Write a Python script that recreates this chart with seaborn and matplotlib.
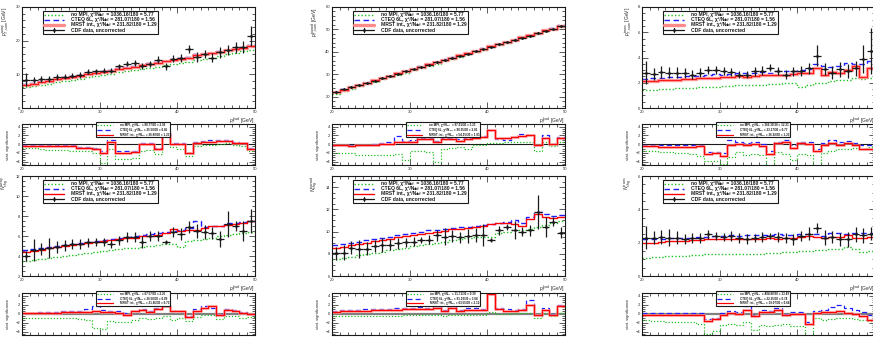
import numpy as np
import matplotlib
matplotlib.use("Agg")
import matplotlib.pyplot as plt
import seaborn as sns
from matplotlib.ticker import MultipleLocator
from matplotlib.lines import Line2D
from matplotlib.offsetbox import TextArea, HPacker, VPacker, DrawingArea, AnchoredOffsetbox

# ---------------- data ----------------
pt_lead_edges = list(range(20, 51))

model_names = ["no MPI", "CTEQ 6L", "MRST int."]
main_chi2 = ["1036.16/180 = 5.77", "281.07/180 = 1.56", "231.82/180 = 1.29"]
data_label = "CDF data, uncorrected"

ylabels_main = [r"$p_{T,\mathrm{sum}}^{\mathrm{away}}$ [GeV]",
                r"$p_{T,\mathrm{sum}}^{\mathrm{toward}}$ [GeV]",
                r"$p_{T,\mathrm{sum}}^{\mathrm{trans}}$ [GeV]",
                r"$N_{\mathrm{chg}}^{\mathrm{away}}$",
                r"$N_{\mathrm{chg}}^{\mathrm{toward}}$",
                r"$N_{\mathrm{chg}}^{\mathrm{trans}}$"]

sig_chi2 = [["88.77/30 = 2.96", "25.50/30 = 0.85", "36.89/30 = 1.23"],
            ["97.01/30 = 3.23", "90.35/30 = 3.01", "54.15/30 = 1.81"],
            ["366.30/30 = 12.21", "23.17/30 = 0.77", "36.92/30 = 1.23"],
            ["67.57/30 = 2.25", "26.58/30 = 0.89", "21.85/30 = 0.73"],
            ["11.71/30 = 0.39", "91.10/30 = 3.04", "63.55/30 = 2.12"],
            ["404.80/30 = 13.49", "22.25/30 = 0.74", "19.07/30 = 0.64"]]

# panel 1
p1_data = [8.4, 8.3, 8.6, 8.7, 9.1, 9.3, 9.6, 9.8, 10.8, 10.9, 11.1, 11.1, 12.4, 13.2, 13.4,
           12.6, 13.1, 14.4, 12.4, 14.6, 14.9, 17.5, 15.1, 16.1, 14.9, 16.5, 17.3, 18.0, 18.1, 21.3]
p1_err = [2.0, 1.0, 1.0, 0.9, 0.9, 0.8, 0.8, 0.8, 0.7, 0.7, 0.7, 0.7, 0.8, 0.8, 0.8,
          0.9, 0.9, 0.9, 1.0, 1.0, 1.1, 1.2, 1.4, 1.2, 1.3, 1.5, 1.5, 1.6, 1.8, 3.0]
p1_nompi = [6.1, 6.5, 6.9, 7.2, 7.6, 8.0, 8.3, 8.6, 9.1, 9.4, 9.7, 10.0, 10.6, 10.9, 11.3,
            11.6, 12.0, 12.3, 12.7, 13.0, 13.4, 13.8, 14.3, 14.6, 15.0, 15.5, 15.9, 16.3, 16.8, 17.3]
p1_cteq = [7.1, 7.5, 7.9, 8.3, 8.7, 9.1, 9.4, 9.8, 10.2, 10.6, 11.0, 11.3, 11.9, 12.2, 12.6,
           12.9, 13.4, 13.6, 14.1, 14.5, 14.9, 15.2, 16.1, 16.0, 16.4, 16.9, 17.3, 17.6, 18.0, 18.6]
p1_mrst = [6.9, 7.2, 7.7, 8.0, 8.5, 8.9, 9.2, 9.6, 10.1, 10.4, 10.8, 11.1, 11.7, 12.0, 12.3,
           12.8, 13.2, 13.4, 13.9, 14.3, 14.7, 15.0, 15.6, 15.9, 16.2, 16.7, 17.1, 17.4, 17.7, 18.3]
s1_nompi = [-0.9, -0.9, -1.0, -1.3, -1.4, -1.4, -1.5, -1.6, -1.6, -2.0, -4.2, -1.2, -3.4, -3.3, -3.2,
            -1.5, -1.4, -2.2, 1.8, -0.6, -1.0, -2.8, -0.4, -0.2, -0.2, 0.0, 0.2, -0.3, -0.5, -1.6]
s1_cteq = [-0.2, -0.2, -0.2, -0.2, -0.2, -0.2, -0.2, -0.6, -0.6, -0.8, -1.6, 1.0, -1.6, -1.6, -1.5,
           0.2, 0.3, -0.9, 2.7, 0.3, 0.3, -1.9, 0.5, 0.8, 0.9, 1.0, 0.9, 0.4, 0.3, -0.9]
s1_mrst = [-0.4, -0.4, -0.4, -0.4, -0.4, -0.4, -0.5, -0.8, -0.8, -1.0, -2.1, 0.4, -1.9, -1.9, -1.8,
           0.0, 0.0, -1.2, 2.4, 0.1, 0.1, -2.1, 0.3, 0.6, 0.6, 0.8, 0.8, 0.3, 0.2, -1.2]

# panel 2
p2_data = [22.2, 23.3, 24.3, 25.2, 26.3, 27.2, 28.3, 29.3, 30.2, 31.3, 32.3, 33.2, 34.3, 35.3, 36.2,
           37.3, 38.3, 39.2, 40.3, 41.3, 42.2, 43.3, 44.2, 45.3, 46.3, 47.2, 48.3, 49.3, 50.2, 51.4]
p2_err = [0.4, 0.3, 0.3, 0.3, 0.3, 0.3, 0.3, 0.3, 0.3, 0.3, 0.3, 0.3, 0.3, 0.3, 0.3,
          0.3, 0.3, 0.3, 0.3, 0.3, 0.3, 0.3, 0.3, 0.3, 0.3, 0.3, 0.4, 0.4, 0.4, 0.5]
p2_nompi = [21.4, 22.6, 23.6, 24.6, 25.6, 26.6, 27.7, 28.7, 29.7, 30.7, 31.8, 32.8, 33.8, 34.8, 35.9,
            36.9, 37.9, 38.9, 39.9, 41.0, 42.0, 43.0, 44.0, 45.0, 46.1, 47.1, 48.1, 49.1, 50.1, 51.1]
p2_cteq = [22.3, 23.3, 24.3, 25.3, 26.4, 27.4, 28.4, 29.4, 30.8, 31.5, 32.5, 33.5, 34.6, 35.6, 36.8,
           37.6, 38.6, 39.6, 40.6, 41.6, 42.8, 43.7, 44.6, 45.6, 46.8, 47.7, 48.5, 49.7, 50.6, 51.8]
p2_mrst = [22.2, 23.2, 24.2, 25.3, 26.3, 27.3, 28.3, 29.3, 30.4, 31.4, 32.4, 33.4, 34.5, 35.5, 36.5,
           37.5, 38.5, 39.5, 40.5, 41.5, 42.6, 43.6, 44.5, 45.5, 46.6, 47.6, 48.4, 49.6, 50.4, 51.6]
s2_nompi = [-2.0, -2.0, -2.1, -2.5, -2.5, -2.5, -2.4, -2.4, -2.3, -3.6, -1.5, -1.6, -1.7, -4.0, -1.1,
            -0.9, -0.7, -1.0, -0.3, -0.3, 0.3, 0.3, 0.4, 0.4, 0.5, 0.6, -1.5, 0.5, -0.5, 0.5]
s2_cteq = [-0.1, -0.1, -0.2, -0.1, -0.1, 0.1, 0.3, 0.5, 1.8, 0.8, 0.9, 1.4, 1.5, 0.7, 1.5,
           1.5, 1.1, 1.5, 1.7, 1.9, 3.3, 1.2, 1.0, 1.6, 2.4, 2.0, -0.2, 2.0, 0.0, 1.6]
s2_mrst = [-0.3, -0.3, -0.4, -0.3, -0.3, -0.2, 0.0, 0.0, 0.4, 0.6, 0.6, 1.2, 1.2, 0.4, 1.2,
           1.2, 0.8, 1.2, 1.4, 1.6, 3.2, 1.5, 1.5, 1.6, 1.8, 2.0, -0.3, 1.3, 0.0, 1.3]

# panel 3
p3_data = [2.8, 2.7, 2.85, 2.8, 2.8, 2.8, 2.65, 2.8, 3.0, 3.0, 2.95, 2.85, 2.65, 2.65, 2.9,
           2.95, 3.2, 2.95, 2.65, 2.9, 2.95, 3.15, 4.15, 3.1, 2.8, 3.05, 2.9, 3.15, 3.9, 4.5]
p3_err = [0.9, 0.5, 0.45, 0.45, 0.45, 0.4, 0.35, 0.35, 0.3, 0.3, 0.3, 0.3, 0.3, 0.3, 0.35,
          0.35, 0.3, 0.3, 0.35, 0.35, 0.4, 0.45, 0.85, 0.5, 0.5, 0.6, 0.55, 0.6, 1.1, 1.8]
p3_nompi = [1.4, 1.45, 1.5, 1.5, 1.55, 1.55, 1.6, 1.65, 1.7, 1.7, 1.75, 1.75, 1.85, 1.8, 1.85,
            1.85, 1.9, 1.9, 2.0, 1.95, 1.7, 1.8, 1.95, 2.0, 2.1, 2.2, 2.2, 2.4, 2.3, 2.35]
p3_cteq = [2.3, 2.35, 2.4, 2.45, 2.45, 2.5, 2.55, 2.55, 2.65, 2.7, 2.65, 2.7, 2.75, 2.75, 2.8,
           2.85, 2.8, 2.9, 2.95, 2.95, 3.0, 3.1, 3.45, 3.3, 3.25, 3.3, 3.6, 3.5, 3.5, 3.7]
p3_mrst = [2.1, 2.15, 2.2, 2.2, 2.25, 2.3, 2.3, 2.35, 2.4, 2.4, 2.45, 2.45, 2.5, 2.45, 2.55,
           2.6, 2.6, 2.6, 2.6, 2.7, 2.75, 2.8, 3.15, 2.65, 2.85, 2.75, 3.0, 3.35, 2.45, 3.2]
s3_nompi = [-1.5, -1.6, -1.8, -1.8, -1.9, -2.0, -2.3, -2.6, -3.8, -3.8, -4.5, -3.0, -1.8, -2.4, -2.2,
            -2.5, -5.0, -1.8, -2.2, -3.5, -2.2, -2.4, -5.0, -2.0, -1.5, -1.2, -1.0, -0.8, -1.2, -0.6]
s3_cteq = [-0.1, -0.1, -0.3, -0.3, -0.3, -0.2, -0.3, -0.1, -1.8, -1.8, -1.9, 1.0, 0.5, 0.2, 0.4,
           0.1, -1.5, 0.6, 1.0, -0.2, 0.5, 0.4, -1.2, 0.3, 1.0, 0.4, 0.7, 0.3, -0.2, -0.3]
s3_mrst = [-0.4, -0.4, -0.7, -0.7, -0.7, -0.6, -0.7, -0.5, -2.2, -2.0, -2.7, -0.3, 0.0, -0.3, 0.0,
           -0.4, -2.3, 0.2, 0.5, -0.8, 0.2, 0.1, -1.5, -0.2, 0.2, -0.3, 0.3, -0.3, -1.2, -1.0]

# panel 4
p4_data = [4.05, 4.6, 4.7, 4.8, 4.95, 5.1, 5.2, 5.2, 5.4, 5.45, 5.45, 5.2, 5.6, 5.9, 5.9,
           5.45, 6.05, 6.05, 5.4, 6.45, 6.2, 6.95, 6.55, 6.45, 6.3, 5.7, 7.25, 7.05, 6.55, 7.55]
p4_err = [0.5, 1.1, 0.6, 1.0, 0.6, 0.55, 0.5, 0.5, 0.45, 0.4, 0.4, 0.4, 0.45, 0.5, 0.5,
          0.6, 0.5, 0.5, 0.2, 0.5, 0.6, 0.6, 0.7, 0.7, 0.6, 0.8, 1.3, 0.5, 1.0, 1.2]
p4_nompi = [3.5, 3.6, 3.75, 3.85, 3.95, 4.05, 4.15, 4.25, 4.35, 4.45, 4.5, 4.6, 4.7, 4.8, 4.85,
            4.95, 5.05, 5.15, 5.25, 5.25, 4.95, 5.5, 5.6, 5.7, 5.8, 6.0, 6.1, 6.2, 6.35, 6.45]
p4_cteq = [4.6, 4.75, 4.8, 4.95, 5.05, 5.15, 5.25, 5.35, 5.45, 5.55, 5.6, 5.75, 5.85, 5.95, 6.0,
           6.1, 6.2, 6.3, 6.4, 6.5, 6.6, 6.8, 7.5, 6.9, 7.0, 7.0, 7.3, 7.3, 7.4, 7.5]
p4_mrst = [4.4, 4.5, 4.65, 4.8, 4.9, 5.0, 5.1, 5.25, 5.35, 5.45, 5.5, 5.6, 5.7, 5.8, 5.85,
           6.0, 6.05, 6.15, 6.3, 6.7, 6.55, 6.6, 6.65, 6.8, 7.05, 7.05, 7.1, 7.2, 7.35, 7.55]
s4_nompi = [-0.9, -0.9, -1.0, -1.0, -1.0, -1.0, -1.0, -1.1, -1.3, -3.3, -3.4, -1.6, -1.9, -1.8, -1.5,
            -1.0, -1.2, -1.0, -0.5, -1.5, -0.9, -1.6, -0.7, -0.4, -0.3, -1.2, -0.5, -0.5, -0.9, -0.7]
s4_cteq = [0.2, 0.2, 0.3, 0.4, 0.4, 0.5, 0.5, 0.6, 1.0, 1.8, 0.8, 0.7, 0.5, 0.2, 0.7,
           1.0, 0.5, 1.2, 1.6, 0.7, 0.6, -0.6, 1.0, 1.8, 1.3, -0.1, 1.0, 0.8, 0.3, 0.0]
s4_mrst = [0.1, 0.1, 0.2, 0.2, 0.2, 0.3, 0.3, 0.3, 0.4, 0.6, 0.3, 0.4, 0.2, -0.3, 0.5,
           0.8, 0.3, 1.0, 1.8, 0.5, 0.5, -0.8, 0.5, 1.3, 1.8, -0.3, 0.8, 0.6, 0.2, 0.0]

# panel 5
p5_data = [8.05, 8.1, 8.55, 8.45, 8.45, 8.7, 8.8, 8.8, 8.95, 9.05, 9.1, 9.25, 9.25, 9.65, 9.55,
           9.6, 9.5, 9.6, 9.7, 9.7, 9.25, 10.1, 10.4, 10.15, 10.0, 10.1, 11.75, 10.45, 10.9, 9.9]
p5_err = [0.6, 0.7, 0.6, 0.8, 0.6, 0.5, 0.6, 0.5, 0.5, 0.4, 0.4, 0.3, 0.4, 0.5, 0.8,
          0.5, 0.5, 0.6, 0.6, 1.0, 0.2, 0.4, 0.3, 0.8, 0.4, 0.5, 1.5, 0.9, 0.4, 0.5]
p5_nompi = [7.5, 7.6, 7.75, 7.85, 7.95, 8.05, 8.2, 8.3, 8.45, 8.55, 8.7, 8.8, 8.9, 9.0, 9.1,
            9.2, 9.3, 9.4, 9.5, 9.55, 9.5, 9.85, 10.0, 10.1, 10.15, 10.2, 10.4, 10.6, 10.8, 10.95]
p5_cteq = [8.75, 8.85, 9.0, 9.1, 9.2, 9.35, 9.45, 9.55, 9.7, 9.75, 9.85, 9.95, 10.1, 10.15, 10.25,
           10.35, 10.4, 10.45, 10.5, 10.6, 10.7, 10.75, 10.85, 11.0, 10.8, 11.3, 11.8, 11.6, 11.4, 11.45]
p5_mrst = [8.55, 8.65, 8.8, 8.9, 9.0, 9.15, 9.25, 9.35, 9.5, 9.6, 9.7, 9.8, 9.85, 9.95, 10.05,
           10.2, 10.25, 10.35, 10.4, 10.5, 10.7, 10.75, 10.75, 10.7, 10.5, 11.1, 11.55, 11.3, 11.2, 11.3]
s5_nompi = [-0.5, -0.5, -0.6, -0.5, -0.6, -0.5, -0.5, -0.5, -0.5, -0.4, -0.4, -0.4, -0.3, -0.3, -0.5,
            -0.3, -0.4, -0.3, -0.2, -0.2, 0.3, 0.0, 0.0, 0.1, 0.1, 0.1, -1.0, 0.2, -0.5, 0.2]
s5_cteq = [0.7, 0.8, 0.8, 0.9, 1.0, 1.1, 1.1, 1.1, 1.2, 1.3, 1.3, 1.5, 1.3, 1.6, 0.9,
           1.6, 0.9, 1.2, 1.2, 1.1, 4.4, 1.2, 1.1, 0.9, 1.0, 3.0, -0.2, 1.2, -0.1, 2.0]
s5_mrst = [0.4, 0.5, 0.5, 0.5, 0.6, 0.8, 0.8, 0.8, 0.9, 1.0, 1.0, 1.1, 1.0, 1.3, 0.6,
           1.3, 0.6, 0.9, 0.9, 0.8, 4.3, 1.0, 0.7, 0.6, 0.8, 2.0, -0.4, 0.8, -0.3, 1.8]

# panel 6
p6_data = [2.3, 2.3, 2.35, 2.3, 2.3, 2.25, 2.3, 2.3, 2.5, 2.4, 2.35, 2.4, 2.3, 2.25, 2.3,
           2.35, 2.4, 2.35, 2.3, 2.2, 2.4, 2.55, 2.9, 2.3, 2.35, 2.2, 2.2, 2.5, 2.45, 2.55]
p6_err = [0.7, 0.4, 0.4, 0.5, 0.4, 0.3, 0.3, 0.3, 0.25, 0.25, 0.25, 0.3, 0.3, 0.3, 0.25,
          0.3, 0.2, 0.3, 0.3, 0.35, 0.3, 0.4, 0.3, 0.45, 0.35, 0.4, 0.45, 0.45, 0.45, 0.4]
p6_nompi = [1.1, 1.15, 1.15, 1.2, 1.2, 1.2, 1.25, 1.25, 1.3, 1.3, 1.35, 1.35, 1.3, 1.35, 1.35,
            1.35, 1.4, 1.4, 1.45, 1.45, 1.5, 1.5, 1.55, 1.55, 1.6, 1.65, 1.75, 1.6, 1.45, 1.5]
p6_cteq = [2.25, 2.25, 2.25, 2.3, 2.3, 2.3, 2.3, 2.35, 2.35, 2.4, 2.4, 2.45, 2.4, 2.45, 2.45,
           2.45, 2.45, 2.5, 2.45, 2.45, 2.5, 2.55, 2.5, 2.4, 2.6, 2.6, 2.55, 2.6, 2.6, 2.6]
p6_mrst = [2.0, 2.0, 2.05, 2.1, 2.1, 2.1, 2.15, 2.15, 2.2, 2.2, 2.2, 2.2, 2.25, 2.2, 2.25,
           2.25, 2.3, 2.25, 2.3, 2.3, 2.35, 2.4, 2.35, 2.3, 2.35, 2.35, 2.45, 2.3, 2.3, 2.35]
s6_nompi = [-1.5, -1.6, -1.7, -1.8, -1.8, -1.9, -1.9, -2.2, -4.5, -3.9, -2.5, -2.2, -2.5, -1.8, -3.6,
            -2.6, -2.8, -2.6, -2.3, -2.8, -2.8, -5.0, -1.0, -1.3, -1.2, -1.0, -0.9, -1.2, -1.3, -1.6]
s6_cteq = [0.1, 0.1, 0.1, 0.2, 0.2, 0.1, 0.2, 0.1, -1.2, -0.9, 0.1, 0.5, 0.4, 1.8, -0.2,
           0.8, 0.6, 1.3, 0.0, 0.3, 0.3, -1.8, 0.5, 0.8, 1.5, 2.0, 1.2, 0.9, 0.3, -0.4]
s6_mrst = [-0.2, -0.2, -0.3, -0.2, -0.2, -0.2, -0.2, -0.3, -1.7, -1.2, -0.4, 0.2, 0.0, 0.8, -0.6,
           0.4, 0.4, 0.8, -0.4, 0.0, 0.0, -2.2, 0.2, 0.3, 0.3, 0.6, 0.1, -0.1, -0.5, -1.3]

# ---------------- style ----------------
sns.set_theme(style="ticks")
plt.rcParams['font.family'] = ['Liberation Sans', 'DejaVu Sans']
plt.rcParams['mathtext.fontset'] = 'custom'
plt.rcParams['mathtext.rm'] = 'Liberation Sans'
plt.rcParams['mathtext.it'] = 'Liberation Sans:italic'
plt.rcParams['mathtext.bf'] = 'Liberation Sans:bold'
plt.rcParams['axes.linewidth'] = 0.8

GREEN = '#22c022'
BLUE = '#1e1eff'
RED = '#ff0000'
PALE = '#ff8a8a'
DOT = (0, (1, 1.5))
DASH = (0, (4, 2.5))

edges = np.array(pt_lead_edges, dtype=float)
centers = 0.5 * (edges[:-1] + edges[1:])
halfw = 0.5 * np.diff(edges)

fig = plt.figure(figsize=(8.73, 3.37), dpi=100)
FW, FH = 873.0, 337.0


def rect(x0, y0, w, y1):
    return [x0 / FW, 1 - y1 / FH, w / FW, (y1 - y0) / FH]


def step(ax, vals, **kw):
    # step histogram over the bin edges (last bin value repeated to close the last bin)
    yv = np.append(np.asarray(vals, dtype=float), vals[-1])
    sns.lineplot(x=edges, y=yv, drawstyle='steps-post', sort=False, estimator=None,
                 ax=ax, legend=False, **kw)


def style_axes(ax, ylim, ymaj, ymin):
    ax.set_xlim(edges[0], edges[-1])
    ax.set_ylim(*ylim)
    ax.xaxis.set_major_locator(MultipleLocator(10))
    ax.xaxis.set_minor_locator(MultipleLocator(1))
    ax.yaxis.set_major_locator(MultipleLocator(ymaj))
    ax.yaxis.set_minor_locator(MultipleLocator(ymin))
    ax.tick_params(which='both', direction='in', top=True, right=True,
                   labelsize=3.0, pad=1.5, width=0.5, color='k')
    ax.tick_params(which='major', length=4)
    ax.tick_params(which='minor', length=2)
    for s in ax.spines.values():
        s.set_linewidth(0.8)
        s.set_color('k')
    ax.set_facecolor('white')
    ax.grid(False)


def make_handle(w_pt, h_pt, kind, style):
    da = DrawingArea(w_pt, h_pt, 0, 0)
    da.add_artist(Line2D([0, w_pt], [h_pt / 2, h_pt / 2], **style))
    if kind == 'data':
        da.add_artist(Line2D([w_pt / 2, w_pt / 2], [0, h_pt], color='k', lw=0.9))
        da.add_artist(Line2D([w_pt / 2], [h_pt / 2], marker='o', ms=1.0, color='k', lw=0))
    return da


def label_box(parts, size, subsize):
    kids = [TextArea(txt, textprops=dict(size=(subsize if sub else size),
                                         weight='bold', color='k'))
            for txt, sub in parts]
    return HPacker(children=kids, align='baseline', pad=0, sep=0)


def custom_legend(ax, rows, size, subsize, hw, hh, hsep, vsep, loc, anchor, pad):
    row_boxes = []
    for style, kind, parts in rows:
        h = make_handle(hw, hh, kind, style)
        t = label_box(parts, size, subsize)
        row_boxes.append(HPacker(children=[h, t], align='center', pad=0, sep=hsep))
    vb = VPacker(children=row_boxes, align='left', pad=0, sep=vsep)
    ab = AnchoredOffsetbox(loc=loc, child=vb, pad=pad, borderpad=0, frameon=True,
                           bbox_to_anchor=anchor, bbox_transform=ax.transAxes,
                           prop=dict(size=size))
    ab.patch.set_boxstyle('square', pad=0)
    ab.patch.set_edgecolor('k')
    ab.patch.set_linewidth(0.8)
    ab.patch.set_facecolor('white')
    ab.set_zorder(10)
    ax.add_artist(ab)


panels = [
    (p1_data, p1_err, p1_nompi, p1_cteq, p1_mrst, s1_nompi, s1_cteq, s1_mrst, (0, 30), 10, 2),
    (p2_data, p2_err, p2_nompi, p2_cteq, p2_mrst, s2_nompi, s2_cteq, s2_mrst, (15, 60), 10, 2),
    (p3_data, p3_err, p3_nompi, p3_cteq, p3_mrst, s3_nompi, s3_cteq, s3_mrst, (0, 8), 2, 0.5),
    (p4_data, p4_err, p4_nompi, p4_cteq, p4_mrst, s4_nompi, s4_cteq, s4_mrst, (2, 12), 2, 0.5),
    (p5_data, p5_err, p5_nompi, p5_cteq, p5_mrst, s5_nompi, s5_cteq, s5_mrst, (6, 15), 2, 0.5),
    (p6_data, p6_err, p6_nompi, p6_cteq, p6_mrst, s6_nompi, s6_cteq, s6_mrst, (0, 6), 2, 0.5),
]

col_left = [22, 332, 642]
col_w = 233
row_main = [(7, 108), (176, 276)]
row_sig = [(124, 165), (293, 335)]

for i, (dat, err, nompi, cteq, mrst, snm, sct, smr, ylim, ymaj, ymin) in enumerate(panels):
    row, col = divmod(i, 3)
    top_row = (row == 0)
    x0 = col_left[col]

    # ---- main panel ----
    ax = fig.add_axes(rect(x0, row_main[row][0], col_w, row_main[row][1]))
    step(ax, nompi, color=GREEN, linestyle=DOT, linewidth=1.0)
    step(ax, cteq, color=BLUE, linestyle=DASH, linewidth=1.0)
    if top_row:
        step(ax, mrst, color=PALE, linewidth=2.4, alpha=0.9)
        step(ax, mrst, color=RED, linewidth=0.6)
    else:
        step(ax, mrst, color=RED, linewidth=1.0)
    ax.errorbar(centers, dat, xerr=halfw, yerr=err, fmt='o', ms=1.0,
                color='k', elinewidth=0.9, capsize=0, zorder=5)
    style_axes(ax, ylim, ymaj, ymin)
    ax.set_ylabel(ylabels_main[i], fontsize=3.6, loc='top', labelpad=3)
    ax.set_xlabel(r"$p_T^{\mathrm{lead}}$ [GeV]", fontsize=3.6, loc='right', labelpad=0.5)

    mrst_style = dict(color=PALE, lw=2.4) if top_row else dict(color=RED, lw=1.0)
    rows = [(dict(color=GREEN, lw=1.0, linestyle=DOT), 'line',
             [(model_names[0] + ", χ²/N", False), ("dof", True), (" = " + main_chi2[0], False)]),
            (dict(color=BLUE, lw=1.0, linestyle=DASH), 'line',
             [(model_names[1] + ", χ²/N", False), ("dof", True), (" = " + main_chi2[1], False)]),
            (mrst_style, 'line',
             [(model_names[2] + ", χ²/N", False), ("dof", True), (" = " + main_chi2[2], False)]),
            (dict(color='k', lw=0.9), 'data', [(data_label, False)])]
    custom_legend(ax, rows, size=3.6, subsize=2.5, hw=14.5, hh=3.0, hsep=4.5, vsep=0.0,
                  loc='upper left', anchor=(0.09, 0.96), pad=0.25)

    # ---- significance panel ----
    sx = fig.add_axes(rect(x0, row_sig[row][0], col_w, row_sig[row][1]))
    if top_row:
        sx.axhline(0, color='k', lw=0.8, zorder=1)
    else:
        sx.axhline(0, color='#808080', lw=1.6, zorder=1)
    step(sx, snm, color=GREEN, linestyle=DOT, linewidth=0.9)
    step(sx, sct, color=BLUE, linestyle=DASH, linewidth=0.9)
    step(sx, smr, color=PALE, linewidth=2.2, alpha=0.7)
    step(sx, smr, color=RED, linewidth=0.8)
    style_axes(sx, (-4.75, 4.6), 2, 0.5)
    sx.set_ylabel("stat. significance", fontsize=3.0, labelpad=4)
    sx.set_xlabel("")
    srows = [(dict(color=GREEN, lw=0.9, linestyle=DOT), 'line',
              [(model_names[0] + ", χ²/N", False), ("dof", True), (" = " + sig_chi2[i][0], False)]),
             (dict(color=BLUE, lw=0.9, linestyle=DASH), 'line',
              [(model_names[1] + ", χ²/N", False), ("dof", True), (" = " + sig_chi2[i][1], False)]),
             (dict(color=RED, lw=0.9), 'line',
              [(model_names[2] + ", χ²/N", False), ("dof", True), (" = " + sig_chi2[i][2], False)])]
    custom_legend(sx, srows, size=2.2, subsize=1.6, hw=11.0, hh=2.0, hsep=5.0, vsep=0.6,
                  loc='upper center', anchor=(0.478, 1.05), pad=0.3)

fig.savefig("out.png", dpi=100, facecolor='white')
